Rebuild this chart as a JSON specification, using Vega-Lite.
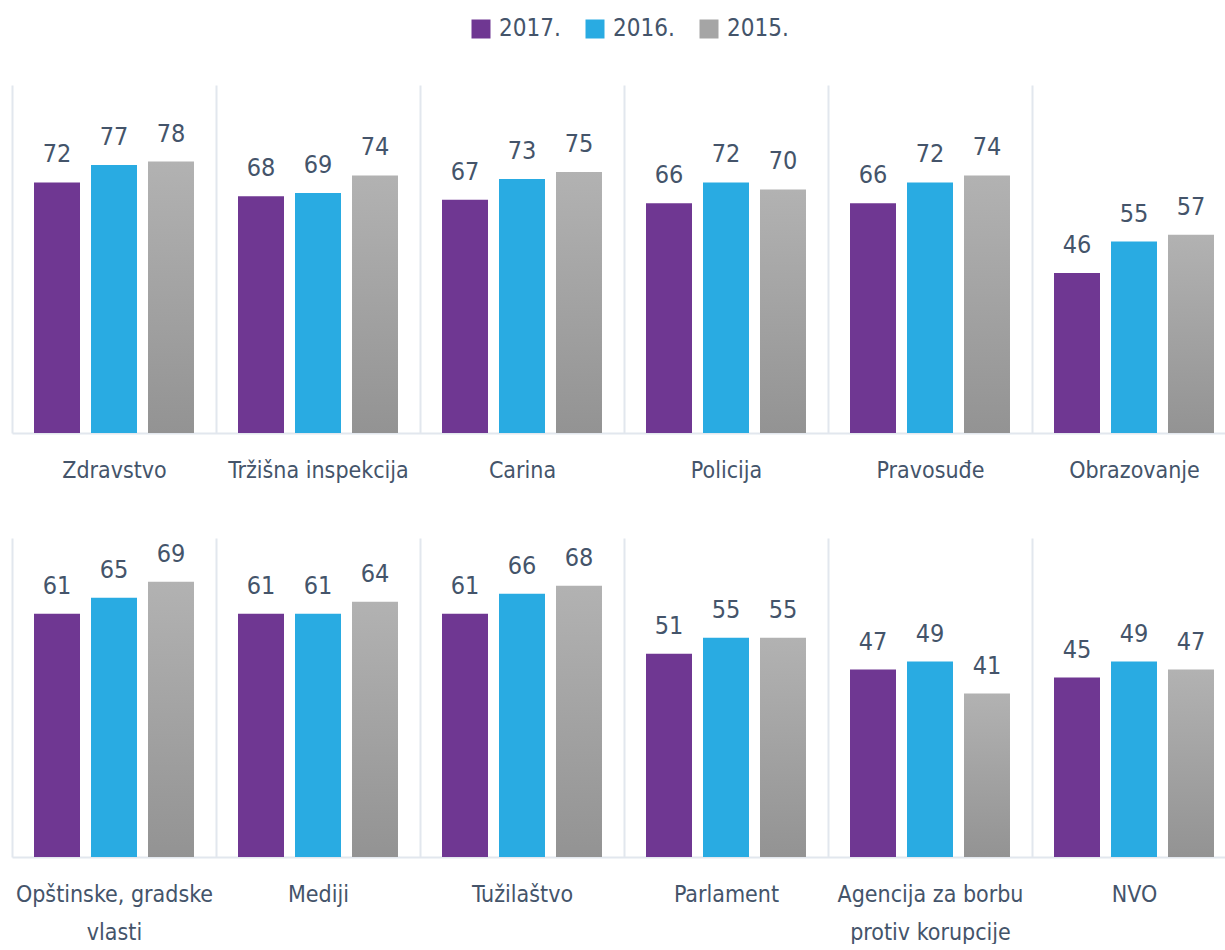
{
  "$schema": "https://vega.github.io/schema/vega-lite/v6.json",
  "padding": {"left": 12, "top": 17, "right": 0, "bottom": 0},
  "background": "white",
  "spacing": 56,
  "config": {
    "view": {"stroke": null},
    "font": "Noto Sans Condensed, DejaVu Sans Condensed, sans-serif"
  },
  "datasets": {
    "d": [
      {"row": 1, "cat": "Zdravstvo", "year": "2017.", "value": 72},
      {"row": 1, "cat": "Zdravstvo", "year": "2016.", "value": 77},
      {"row": 1, "cat": "Zdravstvo", "year": "2015.", "value": 78},
      {"row": 1, "cat": "Tržišna inspekcija", "year": "2017.", "value": 68},
      {"row": 1, "cat": "Tržišna inspekcija", "year": "2016.", "value": 69},
      {"row": 1, "cat": "Tržišna inspekcija", "year": "2015.", "value": 74},
      {"row": 1, "cat": "Carina", "year": "2017.", "value": 67},
      {"row": 1, "cat": "Carina", "year": "2016.", "value": 73},
      {"row": 1, "cat": "Carina", "year": "2015.", "value": 75},
      {"row": 1, "cat": "Policija", "year": "2017.", "value": 66},
      {"row": 1, "cat": "Policija", "year": "2016.", "value": 72},
      {"row": 1, "cat": "Policija", "year": "2015.", "value": 70},
      {"row": 1, "cat": "Pravosuđe", "year": "2017.", "value": 66},
      {"row": 1, "cat": "Pravosuđe", "year": "2016.", "value": 72},
      {"row": 1, "cat": "Pravosuđe", "year": "2015.", "value": 74},
      {"row": 1, "cat": "Obrazovanje", "year": "2017.", "value": 46},
      {"row": 1, "cat": "Obrazovanje", "year": "2016.", "value": 55},
      {"row": 1, "cat": "Obrazovanje", "year": "2015.", "value": 57},
      {"row": 2, "cat": "Opštinske, gradske vlasti", "year": "2017.", "value": 61},
      {"row": 2, "cat": "Opštinske, gradske vlasti", "year": "2016.", "value": 65},
      {"row": 2, "cat": "Opštinske, gradske vlasti", "year": "2015.", "value": 69},
      {"row": 2, "cat": "Mediji", "year": "2017.", "value": 61},
      {"row": 2, "cat": "Mediji", "year": "2016.", "value": 61},
      {"row": 2, "cat": "Mediji", "year": "2015.", "value": 64},
      {"row": 2, "cat": "Tužilaštvo", "year": "2017.", "value": 61},
      {"row": 2, "cat": "Tužilaštvo", "year": "2016.", "value": 66},
      {"row": 2, "cat": "Tužilaštvo", "year": "2015.", "value": 68},
      {"row": 2, "cat": "Parlament", "year": "2017.", "value": 51},
      {"row": 2, "cat": "Parlament", "year": "2016.", "value": 55},
      {"row": 2, "cat": "Parlament", "year": "2015.", "value": 55},
      {"row": 2, "cat": "Agencija za borbu protiv korupcije", "year": "2017.", "value": 47},
      {"row": 2, "cat": "Agencija za borbu protiv korupcije", "year": "2016.", "value": 49},
      {"row": 2, "cat": "Agencija za borbu protiv korupcije", "year": "2015.", "value": 41},
      {"row": 2, "cat": "NVO", "year": "2017.", "value": 45},
      {"row": 2, "cat": "NVO", "year": "2016.", "value": 49},
      {"row": 2, "cat": "NVO", "year": "2015.", "value": 47}
    ]
  },
  "vconcat": [
    {
      "width": 1224,
      "height": 348,
      "data": {"name": "d"},
      "transform": [{"filter": "datum.row == 1"}],
      "encoding": {
        "x": {"field": "cat", "type": "nominal", "sort": null, "title": null,
          "scale": {"paddingInner": 0, "paddingOuter": 0},
          "axis": {"grid": true, "tickBand": "extent", "gridColor": "#e2e7ee", "gridWidth": 2, "domain": true, "domainColor": "#e2e7ee", "domainWidth": 2, "ticks": false, "labelAngle": 0, "labelFontSize": 23, "labelColor": "#44546a", "labelPadding": 26, "labelLineHeight": 38, "labelLimit": 0}},
        "xOffset": {"field": "year", "type": "nominal", "sort": ["2017.", "2016.", "2015."], "scale": {"paddingInner": 0.193, "paddingOuter": 0.386}},
        "y": {"field": "value", "type": "quantitative", "scale": {"domain": [0, 100], "nice": false}, "axis": null}
      },
      "layer": [
        {
          "mark": {"type": "bar"},
          "encoding": {
            "color": {
              "condition": {"test": "datum.year == '2015.'", "value": {"gradient": "linear", "x1": 0, "y1": 0, "x2": 0, "y2": 1, "stops": [{"offset": 0, "color": "#b2b2b2"}, {"offset": 1, "color": "#939393"}]}},
              "field": "year", "type": "nominal",
              "scale": {"domain": ["2017.", "2016.", "2015."], "range": ["#6f3792", "#29abe2", "#a5a5a5"]},
              "legend": {"title": null, "orient": "none", "legendX": 457, "legendY": -68, "direction": "horizontal", "symbolType": "square", "symbolSize": 361, "labelFontSize": 24, "labelColor": "#44546a", "labelOffset": 6, "columnPadding": 22, "padding": 0, "symbolStrokeWidth": 0}}
          }
        },
        {
          "mark": {"type": "text", "baseline": "alphabetic", "dy": -20, "fontSize": 25, "color": "#44546a"},
          "encoding": {
            "text": {"field": "value", "type": "quantitative"}
          }
        }
      ]
    },
    {
      "width": 1224,
      "height": 319,
      "data": {"name": "d"},
      "transform": [{"filter": "datum.row == 2"}],
      "encoding": {
        "x": {"field": "cat", "type": "nominal", "sort": null, "title": null,
          "scale": {"paddingInner": 0, "paddingOuter": 0},
          "axis": {"grid": true, "tickBand": "extent", "gridColor": "#e2e7ee", "gridWidth": 2, "domain": true, "domainColor": "#e2e7ee", "domainWidth": 2, "ticks": false, "labelAngle": 0, "labelFontSize": 23, "labelColor": "#44546a", "labelPadding": 26, "labelLineHeight": 38, "labelLimit": 0,
            "labelExpr": "datum.label == 'Opštinske, gradske vlasti' ? ['Opštinske, gradske', 'vlasti'] : datum.label == 'Agencija za borbu protiv korupcije' ? ['Agencija za borbu', 'protiv korupcije'] : datum.label"}},
        "xOffset": {"field": "year", "type": "nominal", "sort": ["2017.", "2016.", "2015."], "scale": {"paddingInner": 0.193, "paddingOuter": 0.386}},
        "y": {"field": "value", "type": "quantitative", "scale": {"domain": [0, 80], "nice": false}, "axis": null}
      },
      "layer": [
        {
          "mark": {"type": "bar"},
          "encoding": {
            "color": {
              "condition": {"test": "datum.year == '2015.'", "value": {"gradient": "linear", "x1": 0, "y1": 0, "x2": 0, "y2": 1, "stops": [{"offset": 0, "color": "#b2b2b2"}, {"offset": 1, "color": "#939393"}]}},
              "field": "year", "type": "nominal",
              "scale": {"domain": ["2017.", "2016.", "2015."], "range": ["#6f3792", "#29abe2", "#a5a5a5"]},
              "legend": {"title": null, "orient": "none", "legendX": 457, "legendY": -68, "direction": "horizontal", "symbolType": "square", "symbolSize": 361, "labelFontSize": 24, "labelColor": "#44546a", "labelOffset": 6, "columnPadding": 22, "padding": 0, "symbolStrokeWidth": 0}}
          }
        },
        {
          "mark": {"type": "text", "baseline": "alphabetic", "dy": -20, "fontSize": 25, "color": "#44546a"},
          "encoding": {
            "text": {"field": "value", "type": "quantitative"}
          }
        }
      ]
    }
  ],
  "resolve": {"scale": {"y": "independent", "x": "independent", "xOffset": "independent"}}
}
